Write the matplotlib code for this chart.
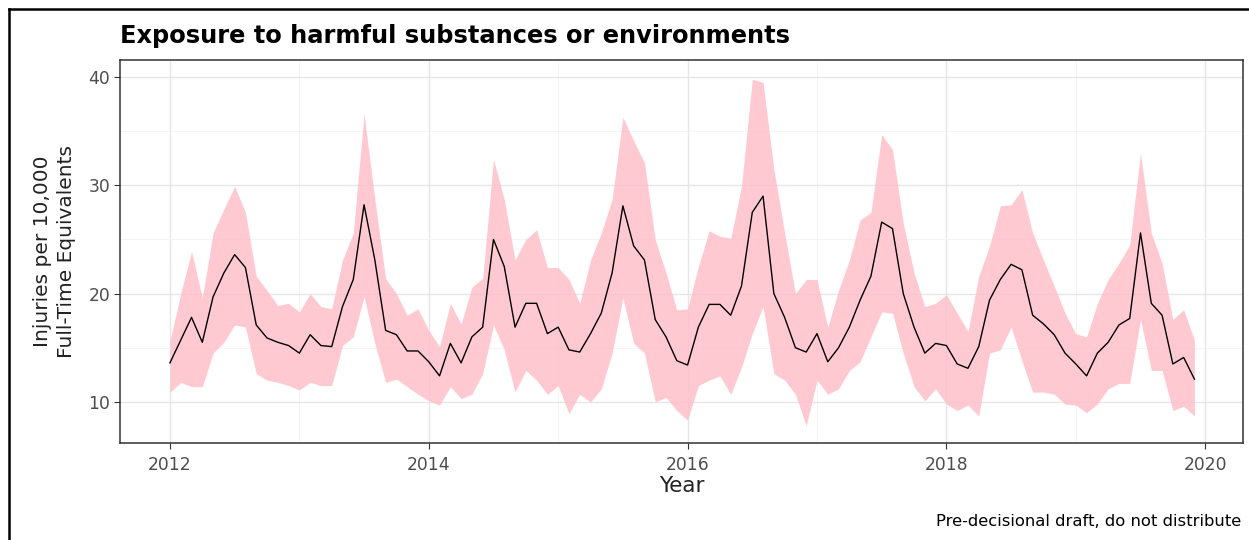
import numpy as np
import matplotlib
matplotlib.use("Agg")
import matplotlib.pyplot as plt
from matplotlib.ticker import MultipleLocator

plt.rcParams['font.family'] = ['DejaVu Sans']

# monthly rate, Jan 2012 - Dec 2019
rate = [
    13.6, 15.7, 17.8, 15.5, 19.7, 21.9, 23.6, 22.4, 17.1, 15.9, 15.5, 15.2,
    14.5, 16.2, 15.2, 15.1, 18.8, 21.3, 28.2, 23.1, 16.6, 16.2, 14.7, 14.7,
    13.7, 12.4, 15.4, 13.6, 16.0, 16.9, 25.0, 22.5, 16.9, 19.1, 19.1, 16.3,
    16.9, 14.8, 14.6, 16.3, 18.2, 21.9, 28.1, 24.4, 23.1, 17.6, 16.0, 13.8,
    13.4, 16.9, 19.0, 19.0, 18.0, 20.7, 27.5, 29.0, 20.0, 17.8, 15.0, 14.6,
    16.3, 13.7, 15.0, 16.9, 19.4, 21.6, 26.6, 26.0, 20.0, 16.9, 14.5, 15.4,
    15.2, 13.5, 13.1, 15.1, 19.4, 21.3, 22.7, 22.2, 18.0, 17.2, 16.2, 14.5,
    13.5, 12.4, 14.5, 15.5, 17.1, 17.7, 25.6, 19.1, 18.0, 13.5, 14.1, 12.1,
]
upper = [
    15.6, 20.0, 23.9, 19.6, 25.6, 27.8, 29.9, 27.5, 21.6, 20.3, 18.9, 19.1,
    18.3, 20.0, 18.8, 18.6, 23.1, 25.6, 36.6, 28.7, 21.4, 20.0, 18.0, 18.6,
    16.6, 15.1, 19.1, 17.2, 20.6, 21.4, 32.4, 28.7, 23.1, 25.0, 25.9, 22.4,
    22.4, 21.3, 19.1, 23.1, 25.6, 28.7, 36.3, 34.1, 32.1, 25.0, 21.9, 18.5,
    18.6, 22.5, 25.8, 25.3, 25.1, 29.9, 39.8, 39.5, 31.5, 25.6, 20.0, 21.3,
    21.3, 16.9, 20.3, 23.1, 26.8, 27.5, 34.7, 33.3, 26.5, 21.9, 18.8, 19.1,
    19.9, 18.2, 16.5, 21.6, 24.4, 28.1, 28.2, 29.6, 25.6, 23.1, 20.7, 18.2,
    16.3, 16.0, 19.1, 21.3, 22.8, 24.5, 33.0, 25.6, 22.8, 17.6, 18.5, 15.7,
]
lower = [
    10.9, 11.8, 11.4, 11.4, 14.5, 15.5, 17.1, 16.9, 12.6, 12.0, 11.8, 11.5,
    11.1, 11.8, 11.5, 11.5, 15.2, 16.0, 19.7, 15.4, 11.8, 12.1, 11.4, 10.7,
    10.1, 9.7, 11.4, 10.3, 10.7, 12.6, 17.1, 14.8, 10.9, 12.9, 12.0, 10.7,
    11.5, 8.9, 10.7, 10.0, 11.2, 14.5, 19.6, 15.4, 14.5, 10.0, 10.4, 9.2,
    8.3, 11.5, 12.0, 12.4, 10.7, 13.2, 16.3, 18.8, 12.6, 12.0, 10.7, 7.8,
    12.0, 10.7, 11.2, 12.9, 13.7, 16.0, 18.3, 18.2, 14.5, 11.4, 10.1, 11.2,
    9.8, 9.2, 9.7, 8.7, 14.5, 14.8, 16.9, 13.8, 10.9, 10.9, 10.7, 9.8,
    9.7, 9.0, 9.8, 11.2, 11.7, 11.7, 17.6, 12.9, 12.9, 9.2, 9.6, 8.7,
]
start_year = 2012
x_ticks = [2012, 2014, 2016, 2018, 2020]
y_ticks = [10, 20, 30, 40]

t = start_year + np.arange(len(rate)) / 12.0

fig = plt.figure(figsize=(12.49, 5.40), dpi=100)
ax = fig.add_axes([120 / 1249, 1 - 443 / 540, (1243 - 120) / 1249, (443 - 60) / 540])

ax.fill_between(t, lower, upper, color="pink", alpha=0.85, lw=0, zorder=2)
ax.plot(t, rate, color="black", lw=1.0, zorder=3)

ax.set_xlim(2011.614, 2020.292)
ax.set_ylim(6.2, 41.57)
ax.set_xticks(x_ticks)
ax.set_yticks(y_ticks)
ax.xaxis.set_minor_locator(MultipleLocator(1))
ax.yaxis.set_minor_locator(MultipleLocator(5))
ax.grid(which="major", color="#e6e6e6", lw=1.0, zorder=0)
ax.grid(which="minor", color="#f2f2f2", lw=0.6, zorder=0)
ax.set_axisbelow(True)

for s in ax.spines.values():
    s.set_color("#333333")
    s.set_linewidth(1.1)
ax.tick_params(which="major", length=4, color="#333333", labelcolor="#4d4d4d",
               labelsize=12.3, pad=3)
ax.tick_params(axis="x", pad=5)
ax.tick_params(which="minor", length=0)

ax.set_xlabel("Year", fontsize=15.5, color="#222222", labelpad=2)
ax.set_ylabel("Injuries per 10,000\nFull-Time Equivalents", fontsize=14.5,
              color="#222222", labelpad=9, linespacing=1.3)

fig.text(120 / 1249, 1 - 43 / 540, "Exposure to harmful substances or environments",
         fontsize=17.4, fontweight="bold", va="baseline", ha="left")
fig.text(1241 / 1249, 1 - 522 / 540, "Pre-decisional draft, do not distribute",
         fontsize=11.8, va="center", ha="right")

# frame round the whole figure
fig.add_artist(plt.Line2D([8.5 / 1249, 8.5 / 1249], [0, 1 - 9 / 540],
                          color="black", lw=1.8, transform=fig.transFigure))
fig.add_artist(plt.Line2D([8.5 / 1249, 1], [1 - 9 / 540, 1 - 9 / 540],
                          color="black", lw=1.8, transform=fig.transFigure))

fig.savefig("out.png", dpi=100)
